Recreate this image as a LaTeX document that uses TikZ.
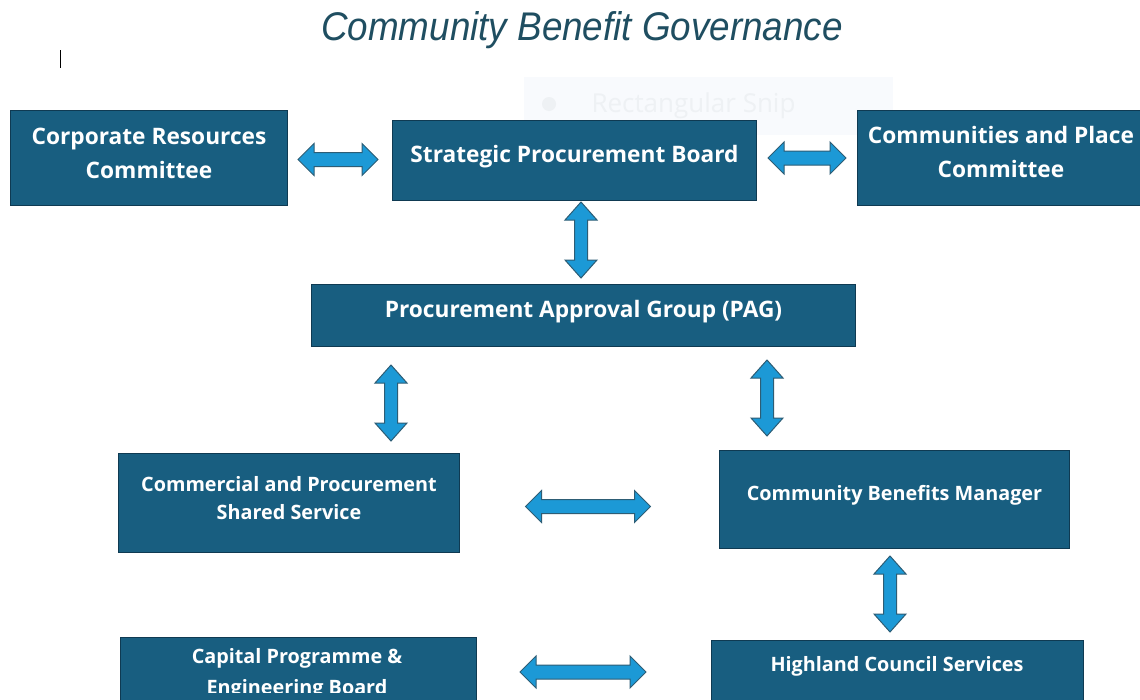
\documentclass[tikz,border=0pt]{standalone}
\usepackage{fontspec}
\newfontfamily\boxfont{Open Sans}
\newfontfamily\titlefont{Liberation Sans}[FakeStretch=0.92]
\newfontfamily\snipfont{Open Sans}
\definecolor{boxblue}{HTML}{185E80}
\definecolor{boxedge}{HTML}{0F3A52}
\definecolor{arrowfill}{HTML}{1C99D6}
\definecolor{arrowedge}{HTML}{2D5D75}
\definecolor{titleblue}{HTML}{1F4E61}
\definecolor{snipbg}{HTML}{F8FAFD}
\definecolor{sniptext}{HTML}{EEF1F4}
\newcommand\harrow[3]{% cx, cy, length
  \begin{scope}[shift={(#1,#2)}]
    \draw[arr] ({-#3/2},0) -- ({-#3/2+16},-16) -- ({-#3/2+16},-7) -- ({#3/2-16},-7) -- ({#3/2-16},-16)
      -- ({#3/2},0) -- ({#3/2-16},16) -- ({#3/2-16},7) -- ({-#3/2+16},7) -- ({-#3/2+16},16) -- cycle;
  \end{scope}}
\newcommand\varrow[3]{% cx, cy, length
  \begin{scope}[shift={(#1,#2)}]
    \draw[arr] (0,{-#3/2}) -- (-16,{-#3/2+18}) -- (-6.5,{-#3/2+18}) -- (-6.5,{#3/2-18}) -- (-16,{#3/2-18})
      -- (0,{#3/2}) -- (16,{#3/2-18}) -- (6.5,{#3/2-18}) -- (6.5,{-#3/2+18}) -- (16,{-#3/2+18}) -- cycle;
  \end{scope}}
\begin{document}
\begin{tikzpicture}[x=1pt,y=-1pt,
  box/.style={draw=boxedge, line width=1pt, fill=boxblue, inner sep=0pt, anchor=north west},
  bigtext/.style={text=white, align=center, inner sep=0pt, yshift=5.5pt, font=\boxfont\bfseries\fontsize{22.7}{34}\selectfont},
  smalltext/.style={text=white, align=center, inner sep=0pt, yshift=5.5pt, font=\boxfont\bfseries\fontsize{19.8}{28}\selectfont},
  arr/.style={fill=arrowfill, draw=arrowedge, line width=1pt, line join=miter}]
\useasboundingbox (0,0) rectangle (1140,699);
\clip (0,0) rectangle (1140,699);
\fill[white] (0,0) rectangle (1140,699);
% faint snip overlay
\fill[snipbg] (524,77) rectangle (893,135);
\fill[sniptext] (549,104) circle (7);
\node[text=sniptext, font=\snipfont\fontsize{26}{28}\selectfont, anchor=west] (snip) at (588,106) {Rectangular Snip};
% title
\node[text=titleblue, font=\titlefont\itshape\fontsize{40}{42}\selectfont] (title) at (582,30) {Community Benefit Governance};
% cursor
\coordinate (cur1) at (60.5,50);
\coordinate (cur2) at (60.5,68);
\draw[black, line width=0.9pt] (cur1) -- (cur2);
% boxes
\node[box, minimum width=277, minimum height=95] (crc) at (10,110) {};
\node[bigtext, yshift=-1pt] (crct) at (crc.center) {Corporate Resources\\Committee};
\node[box, minimum width=364, minimum height=80] (spb) at (392,120) {};
\node[bigtext, yshift=-2pt] (spbt) at (spb.center) {Strategic Procurement Board};
\node[box, minimum width=288, minimum height=95] (cpc) at (857,110) {};
\node[bigtext] (cpct) at (1001,157.5) {Communities and Place\\Committee};
\node[box, minimum width=544, minimum height=62] (pag) at (311,284) {};
\node[bigtext, yshift=-2pt] (pagt) at (pag.center) {Procurement Approval Group (PAG)};
\node[box, minimum width=341, minimum height=99] (cps) at (118,453) {};
\node[smalltext, yshift=-0.5pt] (cpst) at (cps.center) {Commercial and Procurement\\Shared Service};
\node[box, minimum width=350, minimum height=98] (cbm) at (719,450) {};
\node[smalltext, yshift=-1pt] (cbmt) at (cbm.center) {Community Benefits Manager};
\node[box, minimum width=356, minimum height=80] (cpe) at (120,637) {};
\begin{scope}
  \clip (0,0) rectangle (1140,692);
  \node[smalltext, yshift=-5.5pt, font=\boxfont\bfseries\fontsize{19.8}{31}\selectfont, anchor=north] (cpet) at (297,648.5) {Capital Programme \&\\Engineering Board};
\end{scope}
\node[box, minimum width=372, minimum height=80] (hcs) at (711,640) {};
\node[smalltext, yshift=-5.5pt] (hcst) at (897,666.5) {Highland Council Services};
% arrows
\harrow{338}{159.5}{80}
\harrow{807}{158}{78}
\varrow{581}{240}{76}
\varrow{391}{403}{76}
\varrow{767}{398}{76}
\harrow{588}{506.5}{125}
\varrow{890}{594}{76}
\harrow{583}{672}{126}
\end{tikzpicture}
\end{document}
